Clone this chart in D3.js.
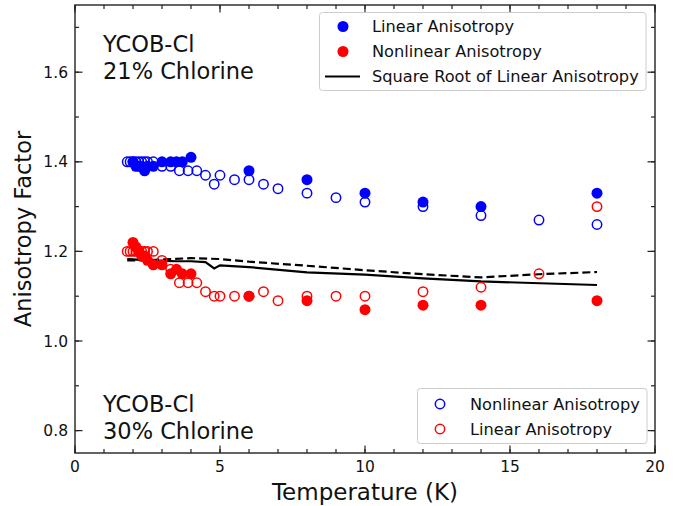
<!DOCTYPE html>
<html>
<head>
<meta charset="utf-8">
<script src="https://cdn.jsdelivr.net/npm/d3@7"></script>
<style>
  html, body { margin: 0; padding: 0; background: #fff; }
  svg { display: block; font-family: "DejaVu Sans", sans-serif; }
</style>
</head>
<body>
<svg id="chart" width="689" height="506"></svg>
<script>
// ---------- data ----------
// 21% chlorine: filled markers
const filledT        = [2.0, 2.1, 2.2, 2.3, 2.4, 2.5, 2.7, 3.0, 3.3, 3.5, 3.7, 4.0, 6, 8, 10, 12, 14, 18];
const linear21       = [1.40, 1.39, 1.39, 1.39, 1.38, 1.39, 1.39, 1.40, 1.40, 1.40, 1.40, 1.41, 1.38, 1.36, 1.33, 1.31, 1.30, 1.33];
const nonlinear21    = [1.22, 1.21, 1.20, 1.19, 1.19, 1.18, 1.17, 1.17, 1.15, 1.16, 1.15, 1.15, 1.10, 1.09, 1.07, 1.08, 1.08, 1.09];
// 30% chlorine: open markers
const openT          = [1.8, 1.9, 2.0, 2.1, 2.2, 2.3, 2.4, 2.5, 2.7, 3.0, 3.3, 3.6, 3.9, 4.2, 4.5, 4.8, 5.0, 5.5, 6, 6.5, 7, 8, 9, 10, 12, 14, 16, 18];
const nonlinear30    = [1.40, 1.40, 1.40, 1.40, 1.40, 1.40, 1.40, 1.40, 1.40, 1.39, 1.39, 1.38, 1.38, 1.38, 1.37, 1.35, 1.37, 1.36, 1.36, 1.35, 1.34, 1.33, 1.32, 1.31, 1.30, 1.28, 1.27, 1.26];
const linear30       = [1.20, 1.20, 1.20, 1.20, 1.20, 1.20, 1.20, 1.20, 1.20, 1.18, 1.16, 1.13, 1.13, 1.13, 1.11, 1.10, 1.10, 1.10, 1.10, 1.11, 1.09, 1.10, 1.10, 1.10, 1.11, 1.12, 1.15, 1.30];
// square root curves
const sqrtSolidT     = [1.8, 2.0, 2.5, 3.0, 3.5, 4.0, 4.5, 4.8, 5.0, 6, 8, 10, 12, 14, 18];
const sqrtSolidV     = [1.183, 1.182, 1.180, 1.179, 1.178, 1.178, 1.176, 1.162, 1.169, 1.165, 1.153, 1.148, 1.140, 1.133, 1.125];
const sqrtDashedT    = [1.8, 2.5, 3.0, 4.0, 5.0, 6, 8, 10, 12, 14, 16, 18];
const sqrtDashedV    = [1.180, 1.180, 1.182, 1.185, 1.183, 1.177, 1.168, 1.158, 1.149, 1.142, 1.149, 1.154];
// axes
const xTicks = [0, 5, 10, 15, 20];
const yTicks = [0.8, 1.0, 1.2, 1.4, 1.6];
const xMinor = d3.range(0, 20.01, 1);
const yMinor = d3.range(0.8, 1.751, 0.1);

// ---------- layout ----------
const svg = d3.select("#chart");
const L = 75, R = 655, T = 5, B = 453;
const x = d3.scaleLinear().domain([0, 20]).range([L, R]);
const y = d3.scaleLinear().domain([0.75, 1.75]).range([B, T]);
const BLUE = "#0000ff", RED = "#ff0000";

// ---------- lines ----------
const line = d3.line().x(d => x(d[0])).y(d => y(d[1]));
svg.append("path")
  .datum(sqrtSolidT.map((t, i) => [t, sqrtSolidV[i]]))
  .attr("d", line).attr("fill", "none").attr("stroke", "#000").attr("stroke-width", 2.2);
svg.append("path")
  .datum(sqrtDashedT.map((t, i) => [t, sqrtDashedV[i]]))
  .attr("d", line).attr("fill", "none").attr("stroke", "#000").attr("stroke-width", 2.2)
  .attr("stroke-dasharray", "8,4");

// ---------- markers ----------
function openMarks(ts, vs, color) {
  svg.append("g").selectAll("circle").data(ts.map((t, i) => [t, vs[i]])).join("circle")
    .attr("cx", d => x(d[0])).attr("cy", d => y(d[1])).attr("r", 4.7)
    .attr("fill", "none").attr("stroke", color).attr("stroke-width", 1.5);
}
function filledMarks(ts, vs, color) {
  svg.append("g").selectAll("circle").data(ts.map((t, i) => [t, vs[i]])).join("circle")
    .attr("cx", d => x(d[0])).attr("cy", d => y(d[1])).attr("r", 5.5)
    .attr("fill", color);
}
openMarks(openT, nonlinear30, BLUE);
openMarks(openT, linear30, RED);
filledMarks(filledT, linear21, BLUE);
filledMarks(filledT, nonlinear21, RED);

// ---------- frame & ticks ----------
const axisG = svg.append("g");
const frameColor = "#222";
axisG.append("rect").attr("x", L).attr("y", T).attr("width", R - L).attr("height", B - T)
  .attr("fill", "none").attr("stroke", frameColor).attr("stroke-width", 1.4);

function tickLines(vals, len, horizontal) {
  vals.forEach(v => {
    if (horizontal) {
      const px = x(v);
      axisG.append("line").attr("x1", px).attr("x2", px).attr("y1", B).attr("y2", B - len).attr("stroke", frameColor).attr("stroke-width", 1.2);
      axisG.append("line").attr("x1", px).attr("x2", px).attr("y1", T).attr("y2", T + len).attr("stroke", frameColor).attr("stroke-width", 1.2);
    } else {
      const py = y(v);
      axisG.append("line").attr("y1", py).attr("y2", py).attr("x1", L).attr("x2", L + len).attr("stroke", frameColor).attr("stroke-width", 1.2);
      axisG.append("line").attr("y1", py).attr("y2", py).attr("x1", R).attr("x2", R - len).attr("stroke", frameColor).attr("stroke-width", 1.2);
    }
  });
}
tickLines(xMinor, 4, true);
tickLines(xTicks, 7.5, true);
tickLines(yMinor, 4, false);
tickLines(yTicks, 7.5, false);

// tick labels
axisG.selectAll("text.xt").data(xTicks).join("text")
  .attr("x", d => x(d)).attr("y", B + 19).attr("text-anchor", "middle")
  .attr("font-size", 15.5).attr("fill", "#111").text(d => d);
axisG.selectAll("text.yt").data(yTicks).join("text")
  .attr("x", L - 7).attr("y", d => y(d) + 5.5).attr("text-anchor", "end")
  .attr("font-size", 15.5).attr("fill", "#111").text(d => d3.format(".1f")(d));

// axis labels
svg.append("text").attr("x", (L + R) / 2).attr("y", 500).attr("text-anchor", "middle")
  .attr("font-size", 23).attr("fill", "#111").text("Temperature (K)");
svg.append("text").attr("transform", `translate(31,${(T + B) / 2}) rotate(-90)`)
  .attr("text-anchor", "middle").attr("font-size", 22.5).attr("fill", "#111").text("Anisotropy Factor");

// annotations
function annot(lines, y0) {
  lines.forEach((s, i) => {
    svg.append("text").attr("x", 103).attr("y", y0 + i * 27)
      .attr("font-size", 22.5).attr("fill", "#111").text(s);
  });
}
annot(["YCOB-Cl", "21% Chlorine"], 51.5);
annot(["YCOB-Cl", "30% Chlorine"], 412);

// ---------- legends ----------
function legendBox(x0, y0, w, h) {
  svg.append("rect").attr("x", x0).attr("y", y0).attr("width", w).attr("height", h)
    .attr("rx", 3).attr("fill", "#fff").attr("fill-opacity", 0.8)
    .attr("stroke", "#cccccc").attr("stroke-width", 1);
}
legendBox(319.5, 12.5, 326.5, 78);
const leg1 = [
  {type: "filled", color: BLUE, label: "Linear Anisotropy"},
  {type: "filled", color: RED, label: "Nonlinear Anisotropy"},
  {type: "line", color: "#000", label: "Square Root of Linear Anisotropy"}
];
leg1.forEach((e, i) => {
  const cy = 26.5 + i * 25;
  if (e.type === "filled") {
    svg.append("circle").attr("cx", 343).attr("cy", cy).attr("r", 5.5).attr("fill", e.color);
  } else {
    svg.append("line").attr("x1", 325).attr("x2", 360).attr("y1", cy).attr("y2", cy)
      .attr("stroke", e.color).attr("stroke-width", 2.2);
  }
  svg.append("text").attr("x", 372).attr("y", cy + 5.8).attr("font-size", 16.2).attr("fill", "#111").text(e.label);
});

legendBox(417.5, 388.5, 229.5, 55);
const leg2 = [
  {color: BLUE, label: "Nonlinear Anisotropy"},
  {color: RED, label: "Linear Anisotropy"}
];
leg2.forEach((e, i) => {
  const cy = 404 + i * 25;
  svg.append("circle").attr("cx", 440).attr("cy", cy).attr("r", 4.7)
    .attr("fill", "none").attr("stroke", e.color).attr("stroke-width", 1.5);
  svg.append("text").attr("x", 470).attr("y", cy + 5.8).attr("font-size", 16.2).attr("fill", "#111").text(e.label);
});
</script>
</body>
</html>
